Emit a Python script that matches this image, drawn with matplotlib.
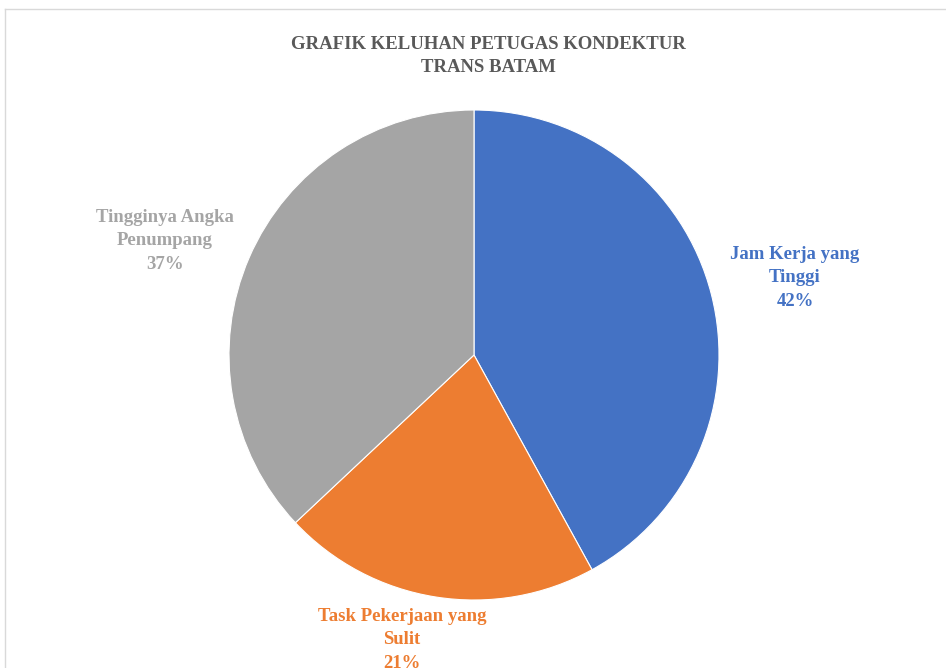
#!/usr/bin/env python3
# -*- coding: utf-8 -*-
"""Grafik keluhan petugas kondektur Trans Batam (pie)."""

import matplotlib
matplotlib.use('Agg')
import matplotlib.pyplot as plt
from matplotlib.lines import Line2D

# ---------- Données ----------
categories = ["Jam Kerja yang\nTinggi", "Task Pekerjaan yang\nSulit", "Tingginya Angka\nPenumpang"]
values = [42, 21, 37]
colors = ["#4472C4", "#ED7D31", "#A5A5A5"]
title = "GRAFIK KELUHAN PETUGAS KONDEKTUR\nTRANS BATAM"

# positions des étiquettes (pixels dans la figure 946x668)
label_px = [(795, 278), (402, 640), (165, 241)]

W, H = 946, 668
plt.rcParams['font.family'] = ['Liberation Serif', 'DejaVu Serif']

fig = plt.figure(figsize=(W / 100, H / 100), dpi=100)

# cadre gris clair (le bord droit/bas sort de l'image)
fig.add_artist(Line2D([5 / W, 1], [1 - 9 / H, 1 - 9 / H], color="#D9D9D9", lw=1))
fig.add_artist(Line2D([5 / W, 5 / W], [0, 1 - 9 / H], color="#D9D9D9", lw=1))

cx, cy, r = 474, 355, 245
ax = fig.add_axes([(cx - r) / W, (H - cy - r) / H, 2 * r / W, 2 * r / H])
ax.pie(values, colors=colors, startangle=90, counterclock=False,
       wedgeprops=dict(linewidth=0.8, edgecolor="white"))
ax.set_aspect('auto')
ax.set_xlim(-1, 1)
ax.set_ylim(-1, 1)

for lab, v, c, (px, py) in zip(categories, values, colors, label_px):
    fig.text(px / W, 1 - py / H, f"{lab}\n{v}%", color=c, fontsize=13.5,
             fontweight='bold', ha='center', va='center', linespacing=1.5)

fig.text(488 / W, 1 - 56 / H, title, color="#595959", fontsize=13.5,
         fontweight='bold', ha='center', va='center', linespacing=1.5)

fig.savefig("out.png", dpi=100)
